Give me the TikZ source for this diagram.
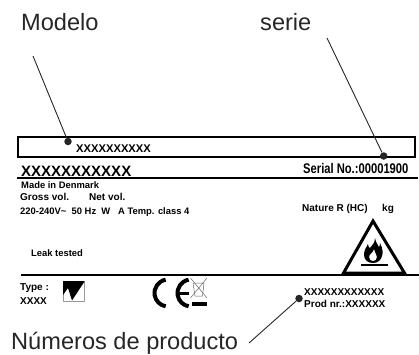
\documentclass[tikz,border=0pt]{standalone}
\usepackage{fontspec}
\setmainfont{Liberation Sans}
\newfontfamily\narrowfont[FakeStretch=0.8]{Liberation Sans}
\tikzset{
	callout/.style={inner sep=0pt, anchor=west, text=black!85, font=\fontsize{23.6}{26}\selectfont},
	plate/.style={inner sep=0pt, anchor=west, font=\bfseries\fontsize{10}{12}\selectfont},
	platesmall/.style={plate, font=\bfseries\fontsize{9.4}{11}\selectfont},
	dot/.style={circle, fill=black!85, inner sep=0pt, minimum size=7.5pt},
	leader/.style={line width=.9pt, black!85},
	rule/.style={line width=1.6pt},
}
\begin{document}
\begin{tikzpicture}[x=1pt, y=-1pt]
	\useasboundingbox (0,0) rectangle (419,354);
	% callouts
	\node[callout] (modelo) at (21,22) {Modelo};
	\node[callout] (serie) at (260,22) {serie};
	\node[callout] (numeros) at (11,343) {Números de producto};
	% plate
	\node[draw, line width=1.7pt, minimum width=397pt, minimum height=20pt, inner sep=0pt, anchor=north west] (frame) at (17,136) {};
	\coordinate (ruleAl) at (17,178);
	\coordinate (ruleAr) at (418,178);
	\coordinate (ruleBl) at (21,275);
	\coordinate (ruleBr) at (419,275);
	\draw[rule] (ruleAl) -- (ruleAr);
	\draw[rule, line width=1.3pt] (ruleBl) -- (ruleBr);
	\node[plate, font=\bfseries\fontsize{11.2}{12}\selectfont] (model) at (76,148.5) {XXXXXXXXXX};
	\node[plate, font=\bfseries\fontsize{15}{18}\selectfont] (code) at (21,171) {XXXXXXXXXXX};
	\node[plate, font=\narrowfont\bfseries\fontsize{14}{16}\selectfont] (serial) at (303,168) {Serial No.:00001900};
	\node[platesmall] (made) at (21,185) {Made in Denmark};
	\node[plate] (gross) at (20,197) {Gross vol.};
	\node[plate] (net) at (89,197) {Net vol.};
	\node[platesmall] (volt) at (20,212) {220-240V\textasciitilde{}\ \ 50 Hz\ \ W\ \ \ A Temp. class 4};
	\node[plate] (nature) at (302,209) {Nature R (HC)};
	\node[plate] (kg) at (382,209) {kg};
	\node[platesmall] (leak) at (31,253) {Leak tested};
	\node[plate] (type) at (20,288) {Type :};
	\node[plate] (xxxx) at (20,301) {XXXX};
	\node[plate] (xcode) at (304,292) {XXXXXXXXXXXX};
	\node[plate] (prod) at (304,304) {Prod nr.:XXXXXX};
	% warning triangle
	\draw[line width=3pt, line join=miter] (373,221) -- (404.5,273) -- (343.5,273) -- cycle;
	\fill (361,264) rectangle (388,266.2);
	\fill[even odd rule] (375,238) .. controls (376,243) and (378,245) .. (379,247) .. controls (380,246) and (380,245) .. (380,243)
		.. controls (383,249) and (383,253) .. (382,256) .. controls (381,260) and (378,263) .. (373,263)
		.. controls (368,263) and (364,260) .. (364,255) .. controls (364,250) and (366,248) .. (368,244)
		.. controls (368,246) and (369,248) .. (370,248) .. controls (372,245) and (375,243) .. (375,238) -- cycle
		(374,249) .. controls (374,252) and (377,254) .. (377,257) .. controls (377,260) and (375,261) .. (373,261)
		.. controls (371,261) and (369,260) .. (369,257) .. controls (369,254) and (373,253) .. (374,249) -- cycle;
	% logo
	\node[draw=black!40, line width=.5pt, minimum width=21pt, minimum height=20pt, inner sep=0pt, anchor=north west] (logo) at (63,281) {};
	\fill (logo.north west) -- (logo.north east) -- (83.5,283) -- (72,300.5) -- (68,288) -- (63,295) -- cycle;
	% CE
	\draw[line width=4pt] (168,293) ++(-100:13.5) arc[start angle=-100, end angle=-260, radius=13.5];
	\draw[line width=4pt] (191,293) ++(-100:13.5) arc[start angle=-100, end angle=-260, radius=13.5];
	\draw[line width=3pt] (178,293) -- (189,293);
	% bin
	\draw[black!60, line width=.5pt] (193,283) -- (204,283) -- (202.5,296) -- (195,296) -- cycle;
	\draw[black!60, line width=.5pt] (190.5,278) -- (207,298) (207,278) -- (190.5,298);
	\fill (192,302) rectangle (207,306);
	% leader lines
	\node[dot] (dotmodel) at (68,141.5) {};
	\node[dot] (dotserie) at (383.7,156) {};
	\node[dot] (dotprod) at (299,298.5) {};
	\coordinate (modelEnd) at (33,56);
	\coordinate (serieEnd) at (327,38);
	\coordinate (prodEnd) at (249,343);
	\draw[leader] (modelEnd) -- (dotmodel);
	\draw[leader] (serieEnd) -- (dotserie);
	\draw[leader] (prodEnd) -- (dotprod);
\end{tikzpicture}
\end{document}
